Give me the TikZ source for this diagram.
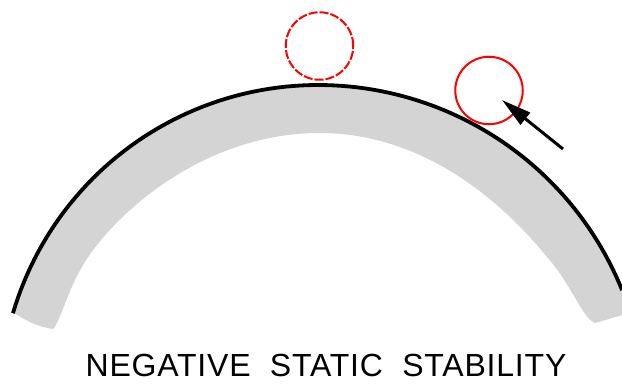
\documentclass[tikz,border=0pt]{standalone}
\usepackage{fontspec}
\setmainfont{Liberation Sans}
\newfontfamily\capfont[LetterSpace=2.5]{Liberation Sans}
\usetikzlibrary{arrows.meta}
\tikzset{
  px/.style={x=1pt,y=-1pt},
  ball/.style={circle,draw=red,minimum size=67.5pt,inner sep=0pt,line width=2pt},
  dashball/.style={ball,dash pattern=on 9pt off 2pt},
  push/.style={draw=black,line width=3pt,-{Triangle[length=30pt,width=15pt]}},
  surface/.style={draw=black,line width=3.8pt,line cap=butt},
  bowl/.style={fill=black!17,draw=none}
}
\begin{document}
\begin{tikzpicture}[px]
\useasboundingbox (0,0) rectangle (622,385);
\fill[bowl] plot[domain=-73.6:0,samples=50] ({318+318*sin(\x)},{403-318*cos(\x)})
  -- plot[domain=0:68,samples=50] ({318+328*sin(\x)},{413-328*cos(\x)})
  -- (622,315) .. controls (612,318) and (603,321) .. (595,323)
  .. controls (582,318) and (572,285) .. (547,257)
  .. controls (480,175) and (400,133) .. (320,133)
  .. controls (195,133) and (105,225) .. (82,267)
  .. controls (68,290) and (60,322) .. (53,329)
  .. controls (38,327) and (24,320) .. (13,312) -- cycle;
\draw[surface] plot[domain=-73.6:0,samples=50] ({318+318*sin(\x)},{403-318*cos(\x)})
  -- plot[domain=0:68,samples=50] ({318+328*sin(\x)},{413-328*cos(\x)});
\node[dashball] (before) at (319.5,46) {};
\node[ball] (after) at (489,90.5) {};
\coordinate (pushstart) at (563,149);
\coordinate (pushend) at (502,100);
\draw[push] (pushstart) -- (pushend);
\node[font=\fontsize{32}{36}\selectfont\capfont,anchor=base] (caption) at (326,376) {NEGATIVE\hspace{0.3em} STATIC\hspace{0.3em} STABILITY};
\end{tikzpicture}
\end{document}
